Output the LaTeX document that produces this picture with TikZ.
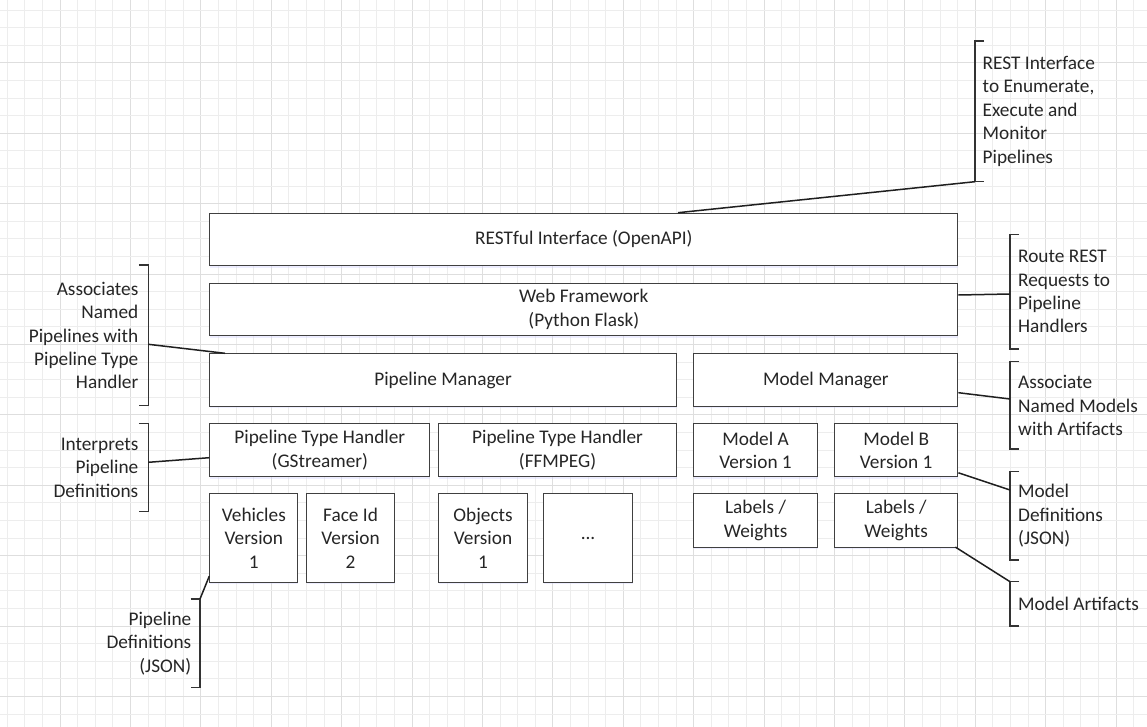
\documentclass[tikz,border=0pt]{standalone}
\usepackage{fontspec}
\setmainfont{Carlito}
\usetikzlibrary{calc,shadows}
\definecolor{txt}{HTML}{262626}
\definecolor{gridminor}{HTML}{EDEDED}
\definecolor{gridmajor}{HTML}{DEDEDE}
\definecolor{boxline}{HTML}{404040}
\tikzset{
  box/.style={draw=boxline, line width=1.1pt, fill=white, inner sep=0pt, align=center, text=txt,
    font=\fontsize{19.3}{23.4}\selectfont,
    drop shadow={shadow xshift=0.6pt, shadow yshift=-2.2pt, opacity=0.35, fill=blue!18}},
  note/.style={inner sep=0pt, text=txt, font=\fontsize{19.3}{23.4}\selectfont},
  conn/.style={draw=black!88, line width=1.5pt},
  brk/.style={draw=black!80, line width=1.5pt},
}
\newcommand\bx[6]{\node[box,anchor=north west,minimum width={(#4-#2)*1pt},minimum height={(#5-#3)*1pt}] (#1) at (#2,#3) {#6};}
\begin{document}
\begin{tikzpicture}[x=1pt,y=-1pt]
\useasboundingbox (0,0) rectangle (1147,727);
\fill[white] (0,0) rectangle (1147,727);
% grid
\foreach \k in {0,...,64} {
  \pgfmathtruncatemacro\m{mod(\k,4)}
  \ifnum\m=3
    \draw[gridmajor, line width=0.9pt] ({7.3+17.6*\k},0) -- ({7.3+17.6*\k},727);
  \else
    \draw[gridminor, line width=0.9pt] ({7.3+17.6*\k},0) -- ({7.3+17.6*\k},727);
  \fi
}
\foreach \k in {0,...,40} {
  \pgfmathtruncatemacro\m{mod(\k,4)}
  \ifnum\m=3
    \draw[gridmajor, line width=0.9pt] (0,{10+17.6*\k}) -- (1147,{10+17.6*\k});
  \else
    \draw[gridminor, line width=0.9pt] (0,{10+17.6*\k}) -- (1147,{10+17.6*\k});
  \fi
}
% boxes
\bx{rest}{209.3}{212.7}{957.3}{265.0}{RESTful Interface (OpenAPI)}
\bx{web}{209.3}{282.7}{957.3}{335.3}{Web Framework\\(Python Flask)}
\bx{pm}{209.3}{353.3}{675.7}{405.7}{Pipeline Manager}
\bx{mm}{693.3}{353.3}{957.3}{405.7}{Model Manager}
\bx{gst}{209.3}{423.3}{429.3}{476.0}{Pipeline Type Handler\\(GStreamer)}
\bx{ff}{438.3}{423.3}{675.7}{476.0}{Pipeline Type Handler\\(FFMPEG)}
\bx{ma}{693.3}{423.3}{816.7}{476.0}{Model A\\Version 1}
\bx{mb}{834.0}{423.3}{957.3}{476.0}{Model B\\Version 1}
\bx{veh}{209.3}{493.3}{297.3}{581.7}{Vehicles\\Version\\1}
\bx{face}{306.0}{493.3}{394.0}{581.7}{Face Id\\Version\\2}
\bx{obj}{438.3}{493.3}{526.7}{581.7}{Objects\\Version\\1}
\bx{dots}{543.3}{493.3}{631.7}{581.7}{...}
\bx{lwa}{693.3}{493.3}{816.7}{546.7}{Labels /\\Weights}
\bx{lwb}{834.0}{493.3}{957.3}{546.7}{Labels /\\Weights}
% right annotations
\coordinate (r1t) at (975,41); \coordinate (r1b) at (975,181.7);
\draw[brk] ($(r1t)+(9,0)$) -- (r1t) -- (r1b) -- ($(r1b)+(9,0)$);
\node[note,anchor=west,align=left] (n1) at (982.5,111.3) {REST Interface\\to Enumerate,\\Execute and\\Monitor\\Pipelines};
\draw[conn] ($(rest.north west)+(468.7,0)$) -- (r1b);

\coordinate (r2t) at (1010,234.3); \coordinate (r2b) at (1010,349); \coordinate (r2m) at (1010,294);
\draw[brk] ($(r2t)+(9,0)$) -- (r2t) -- (r2b) -- ($(r2b)+(9,0)$);
\node[note,anchor=west,align=left] (n2) at (1018,291.7) {Route REST\\Requests to\\Pipeline\\Handlers};
\draw[conn] ($(web.north east)+(0,12.3)$) -- (r2m);

\coordinate (r3t) at (1010,361.7); \coordinate (r3b) at (1010,449); \coordinate (r3m) at (1010,399);
\draw[brk] ($(r3t)+(9,0)$) -- (r3t) -- (r3b) -- ($(r3b)+(9,0)$);
\node[note,anchor=west,align=left] (n3) at (1018,405.5) {Associate\\Named Models\\with Artifacts};
\draw[conn] ($(mm.north east)+(0,39.4)$) -- (r3m);

\coordinate (r4t) at (1010,471.7); \coordinate (r4b) at (1010,560); \coordinate (r4m) at (1010,490);
\draw[brk] ($(r4t)+(9,0)$) -- (r4t) -- (r4b) -- ($(r4b)+(9,0)$);
\node[note,anchor=west,align=left] (n4) at (1018,515.7) {Model\\Definitions\\(JSON)};
\draw[conn] ($(mb.south east)+(0,-4.3)$) -- (r4m);

\coordinate (r5t) at (1010,581.7); \coordinate (r5b) at (1010,626);
\draw[brk] ($(r5t)+(9,0)$) -- (r5t) -- (r5b) -- ($(r5b)+(9,0)$);
\node[note,anchor=west,align=left] (n5) at (1018,603.8) {Model Artifacts};
\draw[conn] ($(lwb.south east)+(-3,-0.7)$) -- (r5t);

% left annotations
\coordinate (l1t) at (148.3,265); \coordinate (l1b) at (148.3,405.7); \coordinate (l1m) at (148.3,344.3);
\draw[brk] ($(l1t)+(-9.5,0)$) -- (l1t) -- (l1b) -- ($(l1b)+(-9.5,0)$);
\node[note,anchor=east,align=right] (n6) at (138.5,335.5) {Associates\\Named\\Pipelines with\\Pipeline Type\\Handler};
\draw[conn] (l1m) -- ($(pm.north west)+(15.7,0)$);

\coordinate (l2t) at (148.3,423.3); \coordinate (l2b) at (148.3,511.7); \coordinate (l2m) at (148.3,462.3);
\draw[brk] ($(l2t)+(-9.5,0)$) -- (l2t) -- (l2b) -- ($(l2b)+(-9.5,0)$);
\node[note,anchor=east,align=right] (n7) at (138.5,467.6) {Interprets\\Pipeline\\Definitions};
\draw[conn] (l2m) -- ($(gst.north west)+(0,34.4)$);

\coordinate (l3t) at (200,599); \coordinate (l3b) at (200,687.3);
\draw[brk] ($(l3t)+(-9.3,0)$) -- (l3t) -- (l3b) -- ($(l3b)+(-9.3,0)$);
\node[note,anchor=east,align=right] (n8) at (191.5,643.4) {Pipeline\\Definitions\\(JSON)};
\draw[conn] (l3t) -- ($(veh.south west)+(0,-6.7)$);
\end{tikzpicture}
\end{document}
